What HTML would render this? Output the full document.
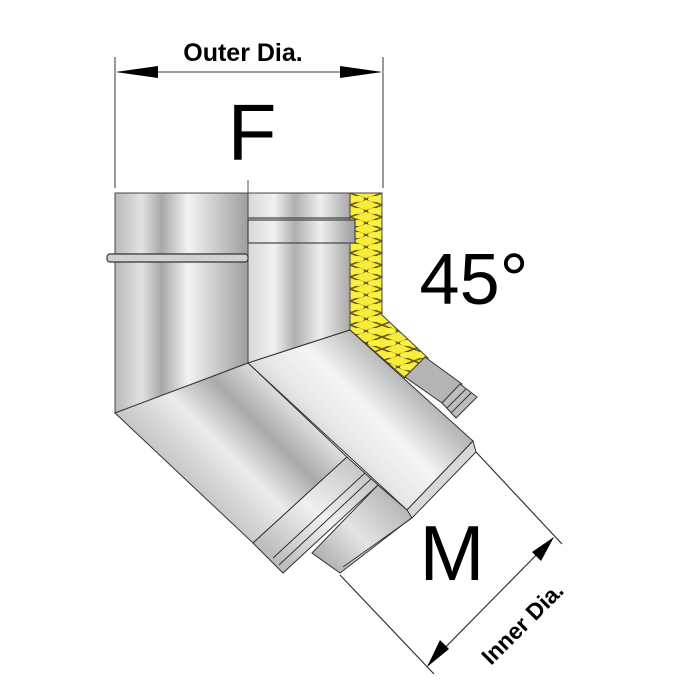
<!DOCTYPE html>
<html><head><style>
html,body{margin:0;padding:0;background:#fff;width:700px;height:700px;overflow:hidden}
svg{display:block}
text{font-family:"Liberation Sans",sans-serif}
</style></head><body>
<svg width="700" height="700" viewBox="0 0 700 700" xmlns="http://www.w3.org/2000/svg">
<defs>
<linearGradient id="gL" x1="115" y1="0" x2="248" y2="0" gradientUnits="userSpaceOnUse">
<stop offset="0" stop-color="#b9b9b9"/><stop offset="0.2" stop-color="#e2e2e2"/><stop offset="0.35" stop-color="#a8a8a8"/><stop offset="0.55" stop-color="#f2f2f2"/><stop offset="0.8" stop-color="#c4c4c4"/><stop offset="1" stop-color="#9e9e9e"/>
</linearGradient>
<linearGradient id="gR" x1="248" y1="0" x2="352" y2="0" gradientUnits="userSpaceOnUse">
<stop offset="0" stop-color="#d8d8d8"/><stop offset="0.25" stop-color="#f0f0f0"/><stop offset="0.45" stop-color="#b0b0b0"/><stop offset="0.7" stop-color="#eeeeee"/><stop offset="1" stop-color="#a4a4a4"/>
</linearGradient>
<linearGradient id="gD" x1="180" y1="480" x2="330" y2="330" gradientUnits="userSpaceOnUse">
<stop offset="0" stop-color="#c4c4c4"/><stop offset="0.25" stop-color="#ebebeb"/><stop offset="0.45" stop-color="#a9a9a9"/><stop offset="0.7" stop-color="#f4f4f4"/><stop offset="1" stop-color="#bdbdbd"/>
</linearGradient>
<linearGradient id="gD2" x1="330" y1="480" x2="420" y2="390" gradientUnits="userSpaceOnUse">
<stop offset="0" stop-color="#bdbdbd"/><stop offset="0.3" stop-color="#e6e6e6"/><stop offset="0.6" stop-color="#f5f5f5"/><stop offset="1" stop-color="#b4b4b4"/>
</linearGradient>
<linearGradient id="gC" x1="290" y1="570" x2="370" y2="480" gradientUnits="userSpaceOnUse">
<stop offset="0" stop-color="#bdbdbd"/><stop offset="0.5" stop-color="#f0f0f0"/><stop offset="1" stop-color="#c8c8c8"/>
</linearGradient>
<linearGradient id="gI" x1="320" y1="570" x2="395" y2="500" gradientUnits="userSpaceOnUse">
<stop offset="0" stop-color="#a8a8a8"/><stop offset="0.5" stop-color="#e4e4e4"/><stop offset="1" stop-color="#b8b8b8"/>
</linearGradient>
<pattern id="ins" x="350" y="193" width="32" height="12" patternUnits="userSpaceOnUse">
<rect width="32" height="12" fill="#f7ec3a"/>
<path d="M0,0 L32,12 M32,0 L0,12" stroke="#6b5a20" stroke-width="1.6"/>
<ellipse cx="8" cy="6" rx="6" ry="3" fill="#fbf23e"/>
<ellipse cx="24" cy="6" rx="6" ry="3" fill="#fbf23e"/>
</pattern>
</defs>

<!-- dimension top -->
<line x1="115" y1="57" x2="115" y2="188" stroke="#555" stroke-width="1.2"/>
<line x1="383" y1="57" x2="383" y2="188" stroke="#555" stroke-width="1.2"/>
<line x1="248" y1="180" x2="248" y2="195" stroke="#555" stroke-width="1"/>
<line x1="118" y1="72" x2="380" y2="72" stroke="#666" stroke-width="1.2"/>
<polygon points="116,72 158,66 158,78" fill="#000"/>
<polygon points="382,72 340,66 340,78" fill="#000"/>
<text x="243" y="61" font-size="25" font-weight="bold" text-anchor="middle">Outer Dia.</text>
<text x="252" y="160" font-size="80" text-anchor="middle">F</text>
<text x="474" y="304" font-size="72" text-anchor="middle">45°</text>

<!-- insulation -->
<polygon points="350,193 382,193 382,315 428,358 405,378 350,330" fill="url(#ins)" stroke="#444" stroke-width="1"/>
<!-- gray small collars -->
<polygon points="405,377 425,357 462,384 442,403" fill="#b4b4b4" stroke="#333" stroke-width="1"/>
<polygon points="442,403 460,384 477,397 456,418" fill="#bdbdbd" stroke="#333" stroke-width="1"/>
<line x1="447" y1="408" x2="466" y2="389" stroke="#333" stroke-width="1"/>
<line x1="451" y1="413" x2="471" y2="393" stroke="#333" stroke-width="1"/>

<!-- upper pipes -->
<polygon points="115,193 248,193 248,363 115,413" fill="url(#gL)" stroke="#444" stroke-width="1"/>
<polygon points="248,193 350,193 350,330 248,363" fill="url(#gR)" stroke="#444" stroke-width="1"/>
<rect x="107" y="254" width="141" height="8" rx="3" fill="#d0d0d0" stroke="#333" stroke-width="1.2"/>
<line x1="248" y1="218" x2="350" y2="218" stroke="#444" stroke-width="1.2"/>
<rect x="248" y="220" width="107" height="23" fill="url(#gR)" stroke="#444" stroke-width="1.2"/>

<!-- inner pipe (lower) -->
<polygon points="312,553 378,485 414,516 340,573" fill="url(#gI)" stroke="#333" stroke-width="1"/>
<!-- right panel -->
<polygon points="248,363 350,330 473,441 407,510" fill="url(#gD2)" stroke="#333" stroke-width="1"/>
<polygon points="407,510 473,441 476,452 412,518" fill="#d8d8d8" stroke="#333" stroke-width="1"/>
<line x1="343" y1="567" x2="412" y2="518" stroke="#333" stroke-width="1"/>
<!-- left panel -->
<polygon points="115,413 248,363 347,457 253,543" fill="url(#gD)" stroke="#333" stroke-width="1"/>
<!-- collar rings -->
<polygon points="253,543 347,457 378,485 283,573" fill="url(#gC)" stroke="#333" stroke-width="1"/>
<line x1="273" y1="558" x2="365" y2="473" stroke="#333" stroke-width="1"/>
<line x1="279" y1="565" x2="371" y2="479" stroke="#333" stroke-width="1"/>

<!-- lower dimension -->
<line x1="476" y1="452" x2="562" y2="544" stroke="#333" stroke-width="1.2"/>
<line x1="340" y1="575" x2="434" y2="674" stroke="#333" stroke-width="1.2"/>
<line x1="428" y1="665" x2="553" y2="538" stroke="#333" stroke-width="1.2"/>
<polygon points="427,667 440,640 449,649" fill="#000"/>
<polygon points="554,537 532,552 541,561" fill="#000"/>
<text x="452" y="580" font-size="78" text-anchor="middle">M</text>
<text x="0" y="0" font-size="23" font-weight="bold" text-anchor="middle" transform="translate(528,629) rotate(-45)">Inner Dia.</text>
</svg>
</body></html>
